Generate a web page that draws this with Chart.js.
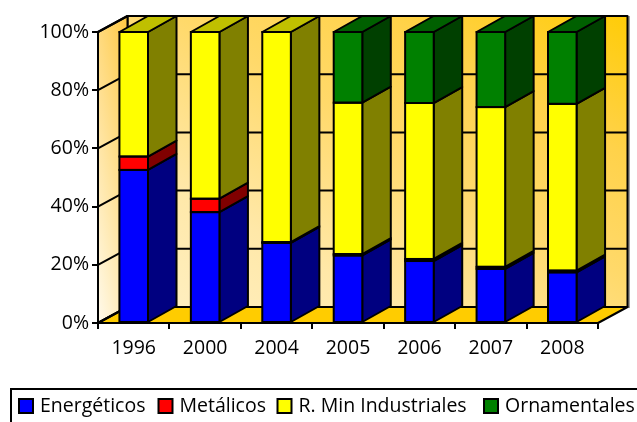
<!DOCTYPE html>
<html>
<head>
<meta charset="utf-8">
<style>
  html, body { margin: 0; padding: 0; background: #fff; overflow: hidden; }
  canvas { display: block; }
</style>
<script src="https://cdn.jsdelivr.net/npm/chart.js@4"></script>
</head>
<body>
<canvas id="myChart" width="637" height="422"></canvas>
<script>
var years = ['1996', '2000', '2004', '2005', '2006', '2007', '2008'];
var energeticos = [52.6, 38.1, 27.5, 23.2, 21.3, 18.6, 17.4];
var metalicos = [4.6, 4.6, 0.3, 0.5, 0.7, 0.7, 0.6];
var industriales = [42.8, 57.3, 72.2, 52.0, 53.6, 54.9, 57.3];
var ornamentales = [0, 0, 0, 24.3, 24.4, 25.8, 24.7];
var yTicks = [0, 20, 40, 60, 80, 100];

var frontColors = ['#0000ff', '#ff0000', '#ffff00', '#008000'];
var sideColors = ['#000080', '#800000', '#808000', '#004000'];
var topColors = ['#0000c0', '#c00000', '#c0c000', '#006000'];

var fontName = '"Open Sans", sans-serif';
var wallX = 29.5, wallY = -16;
var barX = 28.5, barY = -16;

function poly(ctx, pts, fill) {
  ctx.beginPath();
  ctx.moveTo(pts[0][0], pts[0][1]);
  for (var i = 1; i < pts.length; i++) ctx.lineTo(pts[i][0], pts[i][1]);
  ctx.closePath();
  if (fill) {
    ctx.fillStyle = fill;
    ctx.fill();
  }
  ctx.stroke();
}

// back wall, left wall, floor and the grid on them
var walls = {
  id: 'walls',
  beforeDraw: function (chart) {
    var ctx = chart.ctx, a = chart.chartArea, y = chart.scales.y;
    ctx.save();
    ctx.lineWidth = 2;
    ctx.lineJoin = 'round';
    ctx.strokeStyle = '#000';

    ctx.fillStyle = '#a0a0a0';
    ctx.fillRect(a.right + wallX, a.top + wallY, 2.5, a.height + 1);

    var back = ctx.createLinearGradient(251, 378, 503, -55);
    back.addColorStop(0, '#fff0c4');
    back.addColorStop(0.26, '#ffe8a8');
    back.addColorStop(0.55, '#ffd96a');
    back.addColorStop(0.76, '#ffd24a');
    back.addColorStop(1, '#ffcc08');
    poly(ctx, [[a.left + wallX, a.top + wallY], [a.right + wallX, a.top + wallY],
      [a.right + wallX, a.bottom + wallY], [a.left + wallX, a.bottom + wallY]], back);

    var left = ctx.createLinearGradient(98, 323, 185, 306);
    left.addColorStop(0, '#fffaec');
    left.addColorStop(1, '#ffc840');
    poly(ctx, [[a.left, a.top], [a.left + wallX, a.top + wallY],
      [a.left + wallX, a.bottom + wallY], [a.left, a.bottom]], left);

    poly(ctx, [[a.left, a.bottom], [a.right, a.bottom],
      [a.right + wallX, a.bottom + wallY], [a.left + wallX, a.bottom + wallY]], '#ffcc00');

    yTicks.forEach(function (t) {
      var py = y.getPixelForValue(t);
      ctx.beginPath();
      ctx.moveTo(a.left, py);
      ctx.lineTo(a.left + wallX, py + wallY);
      if (t > 0 && t < 100) ctx.lineTo(a.right + wallX, py + wallY);
      ctx.stroke();
    });
    ctx.restore();
  }
};

// side and top faces behind the flat bars, outline on top of them
var bars3d = {
  id: 'bars3d',
  beforeDatasetsDraw: function (chart) {
    var ctx = chart.ctx;
    ctx.save();
    ctx.lineWidth = 2;
    ctx.lineJoin = 'round';
    ctx.strokeStyle = '#000';
    chart.data.datasets.forEach(function (ds, d) {
      chart.getDatasetMeta(d).data.forEach(function (b) {
        if (b.base - b.y < 0.01) return;
        var r = b.x + b.width / 2;
        poly(ctx, [[r, b.y], [r + barX, b.y + barY], [r + barX, b.base + barY], [r, b.base]], sideColors[d]);
      });
    });
    chart.getDatasetMeta(0).data.forEach(function (b0, i) {
      var d = chart.data.datasets.length - 1;
      while (d > 0 && !chart.data.datasets[d].data[i]) d--;
      var b = chart.getDatasetMeta(d).data[i];
      var l = b.x - b.width / 2, r = b.x + b.width / 2;
      poly(ctx, [[l, b.y], [r, b.y], [r + barX, b.y + barY], [l + barX, b.y + barY]], topColors[d]);
    });
    ctx.restore();
  },
  afterDatasetsDraw: function (chart) {
    var ctx = chart.ctx;
    ctx.save();
    ctx.lineWidth = 2;
    ctx.strokeStyle = '#000';
    chart.data.datasets.forEach(function (ds, d) {
      chart.getDatasetMeta(d).data.forEach(function (b) {
        if (b.base - b.y < 0.01) return;
        ctx.strokeRect(b.x - b.width / 2, b.y, b.width, b.base - b.y);
      });
    });
    ctx.restore();
  }
};

// legend box runs off the right and bottom of the picture
var legendBox = {
  id: 'legendBox',
  afterDraw: function (chart) {
    var ctx = chart.ctx;
    var swatchX = [19, 158.5, 277.5, 484];
    ctx.save();
    ctx.strokeStyle = '#000';
    ctx.lineWidth = 2;
    ctx.strokeRect(11, 389, 640, 50);
    ctx.font = '19.5px ' + fontName;
    ctx.textBaseline = 'middle';
    chart.data.datasets.forEach(function (ds, d) {
      ctx.fillStyle = frontColors[d];
      ctx.fillRect(swatchX[d], 399, 14, 14);
      ctx.strokeRect(swatchX[d], 399, 14, 14);
      ctx.fillStyle = '#000';
      ctx.fillText(ds.label, swatchX[d] + 21, 406.5);
    });
    ctx.restore();
  }
};

var ctx = document.getElementById('myChart').getContext('2d');

var chartData = {
  type: 'bar',
  data: {
    labels: years,
    datasets: [
      { label: 'Energéticos', data: energeticos, backgroundColor: frontColors[0] },
      { label: 'Metálicos', data: metalicos, backgroundColor: frontColors[1] },
      { label: 'R. Min Industriales', data: industriales, backgroundColor: frontColors[2] },
      { label: 'Ornamentales', data: ornamentales, backgroundColor: frontColors[3] },
    ],
  },
  options: {
    responsive: false,
    animation: false,
    barPercentage: 0.4,
    categoryPercentage: 1,
    layout: { padding: { left: 0, top: 32, right: 39, bottom: 49 } },
    plugins: {
      legend: { display: false },
      tooltip: { enabled: false },
    },
    scales: {
      x: {
        stacked: true,
        afterFit: function (s) { s.height = 50; },
        border: { color: '#000', width: 2 },
        grid: { drawOnChartArea: false, drawTicks: true, tickLength: 6, tickColor: '#000', lineWidth: 2 },
        ticks: { color: '#000', font: { family: fontName, size: 19.5 }, padding: 8, maxRotation: 0 },
      },
      y: {
        stacked: true,
        min: 0,
        max: 100,
        afterFit: function (s) { s.width = 98; },
        border: { color: '#000', width: 2 },
        grid: { drawOnChartArea: false, drawTicks: true, tickLength: 6, tickColor: '#000', lineWidth: 2 },
        ticks: {
          stepSize: 20,
          color: '#000',
          padding: 3,
          font: { family: fontName, size: 19.5 },
          callback: function (v) { return v + '%'; },
        },
      },
    },
  },
  plugins: [walls, bars3d, legendBox],
};

var myChart = new Chart(ctx, chartData);
</script>
</body>
</html>
